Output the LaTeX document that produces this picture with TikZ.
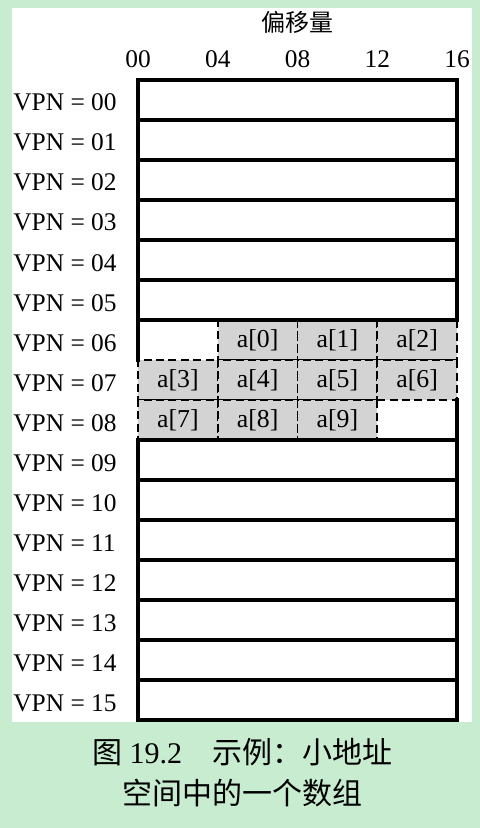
\documentclass[tikz,border=0pt]{standalone}
\usepackage{fontspec}
\setmainfont{Liberation Serif}
\newfontfamily\cjk{Noto Sans CJK SC}
\definecolor{pagegreen}{RGB}{199,236,207}
\definecolor{cellgray}{RGB}{211,211,211}
\tikzset{
  frame/.style={line width=1.75pt, line cap=rect},
  lbl/.style={inner sep=0pt, font=\fontsize{12.7}{15}\selectfont},
  arrcell/.style={draw, fill=cellgray, line width=0.95pt, dash pattern=on 4pt off 2.2pt,
    minimum width=39.875pt, minimum height=20pt, inner sep=0pt,
    font=\fontsize{12.9}{15}\selectfont}
}
\begin{document}
\begin{tikzpicture}[x=0.5pt, y=-0.5pt]
    % Draw background and white panel
    \fill[pagegreen] (0,0) rectangle (480,828);
    \fill[white] (12,8) rectangle (472,722);
    % Draw heading and offsets
    \node[lbl, font=\cjk\fontsize{12}{14}\selectfont] (head) at (297,22) {偏移量};
    \foreach \o [count=\i from 0] in {00,04,08,12,16}
        \node[lbl, anchor=base] (off\i) at (138+79.75*\i,68) {\o};
    % Draw page numbers
    \foreach \v [count=\k from 0] in {00,01,02,03,04,05,06,07,08,09,10,11,12,13,14,15}
        \node[lbl, anchor=base west] (vpn\k) at (13,111+40*\k) {VPN = \v};
    % Draw the array cells
    \foreach \n/\r/\c in {0/6/1,1/6/2,2/6/3,3/7/0,4/7/1,5/7/2,6/7/3,7/8/0,8/8/1,9/8/2}
        \node[arrcell] (a\n) at (177.875+79.75*\c,100+40*\r) {a[\n]};
    % Draw frame
    \foreach \k in {0,1,2,3,4,5,6,9,10,11,12,13,14,15,16}
        \draw[frame] (138,80+40*\k) -- (457,80+40*\k);
    \draw[frame] (138,80) -- (138,360) (138,440) -- (138,720);
    \draw[frame] (457,80) -- (457,320) (457,400) -- (457,720);
    % Caption
    \node[lbl, font=\fontsize{15}{18}\selectfont] (cap1) at (242,752) {{\cjk 图} 19.2\quad{\cjk 示例：小地址}};
    \node[lbl, font=\cjk\fontsize{15}{18}\selectfont] (cap2) at (242,793) {空间中的一个数组};
\end{tikzpicture}
\end{document}
